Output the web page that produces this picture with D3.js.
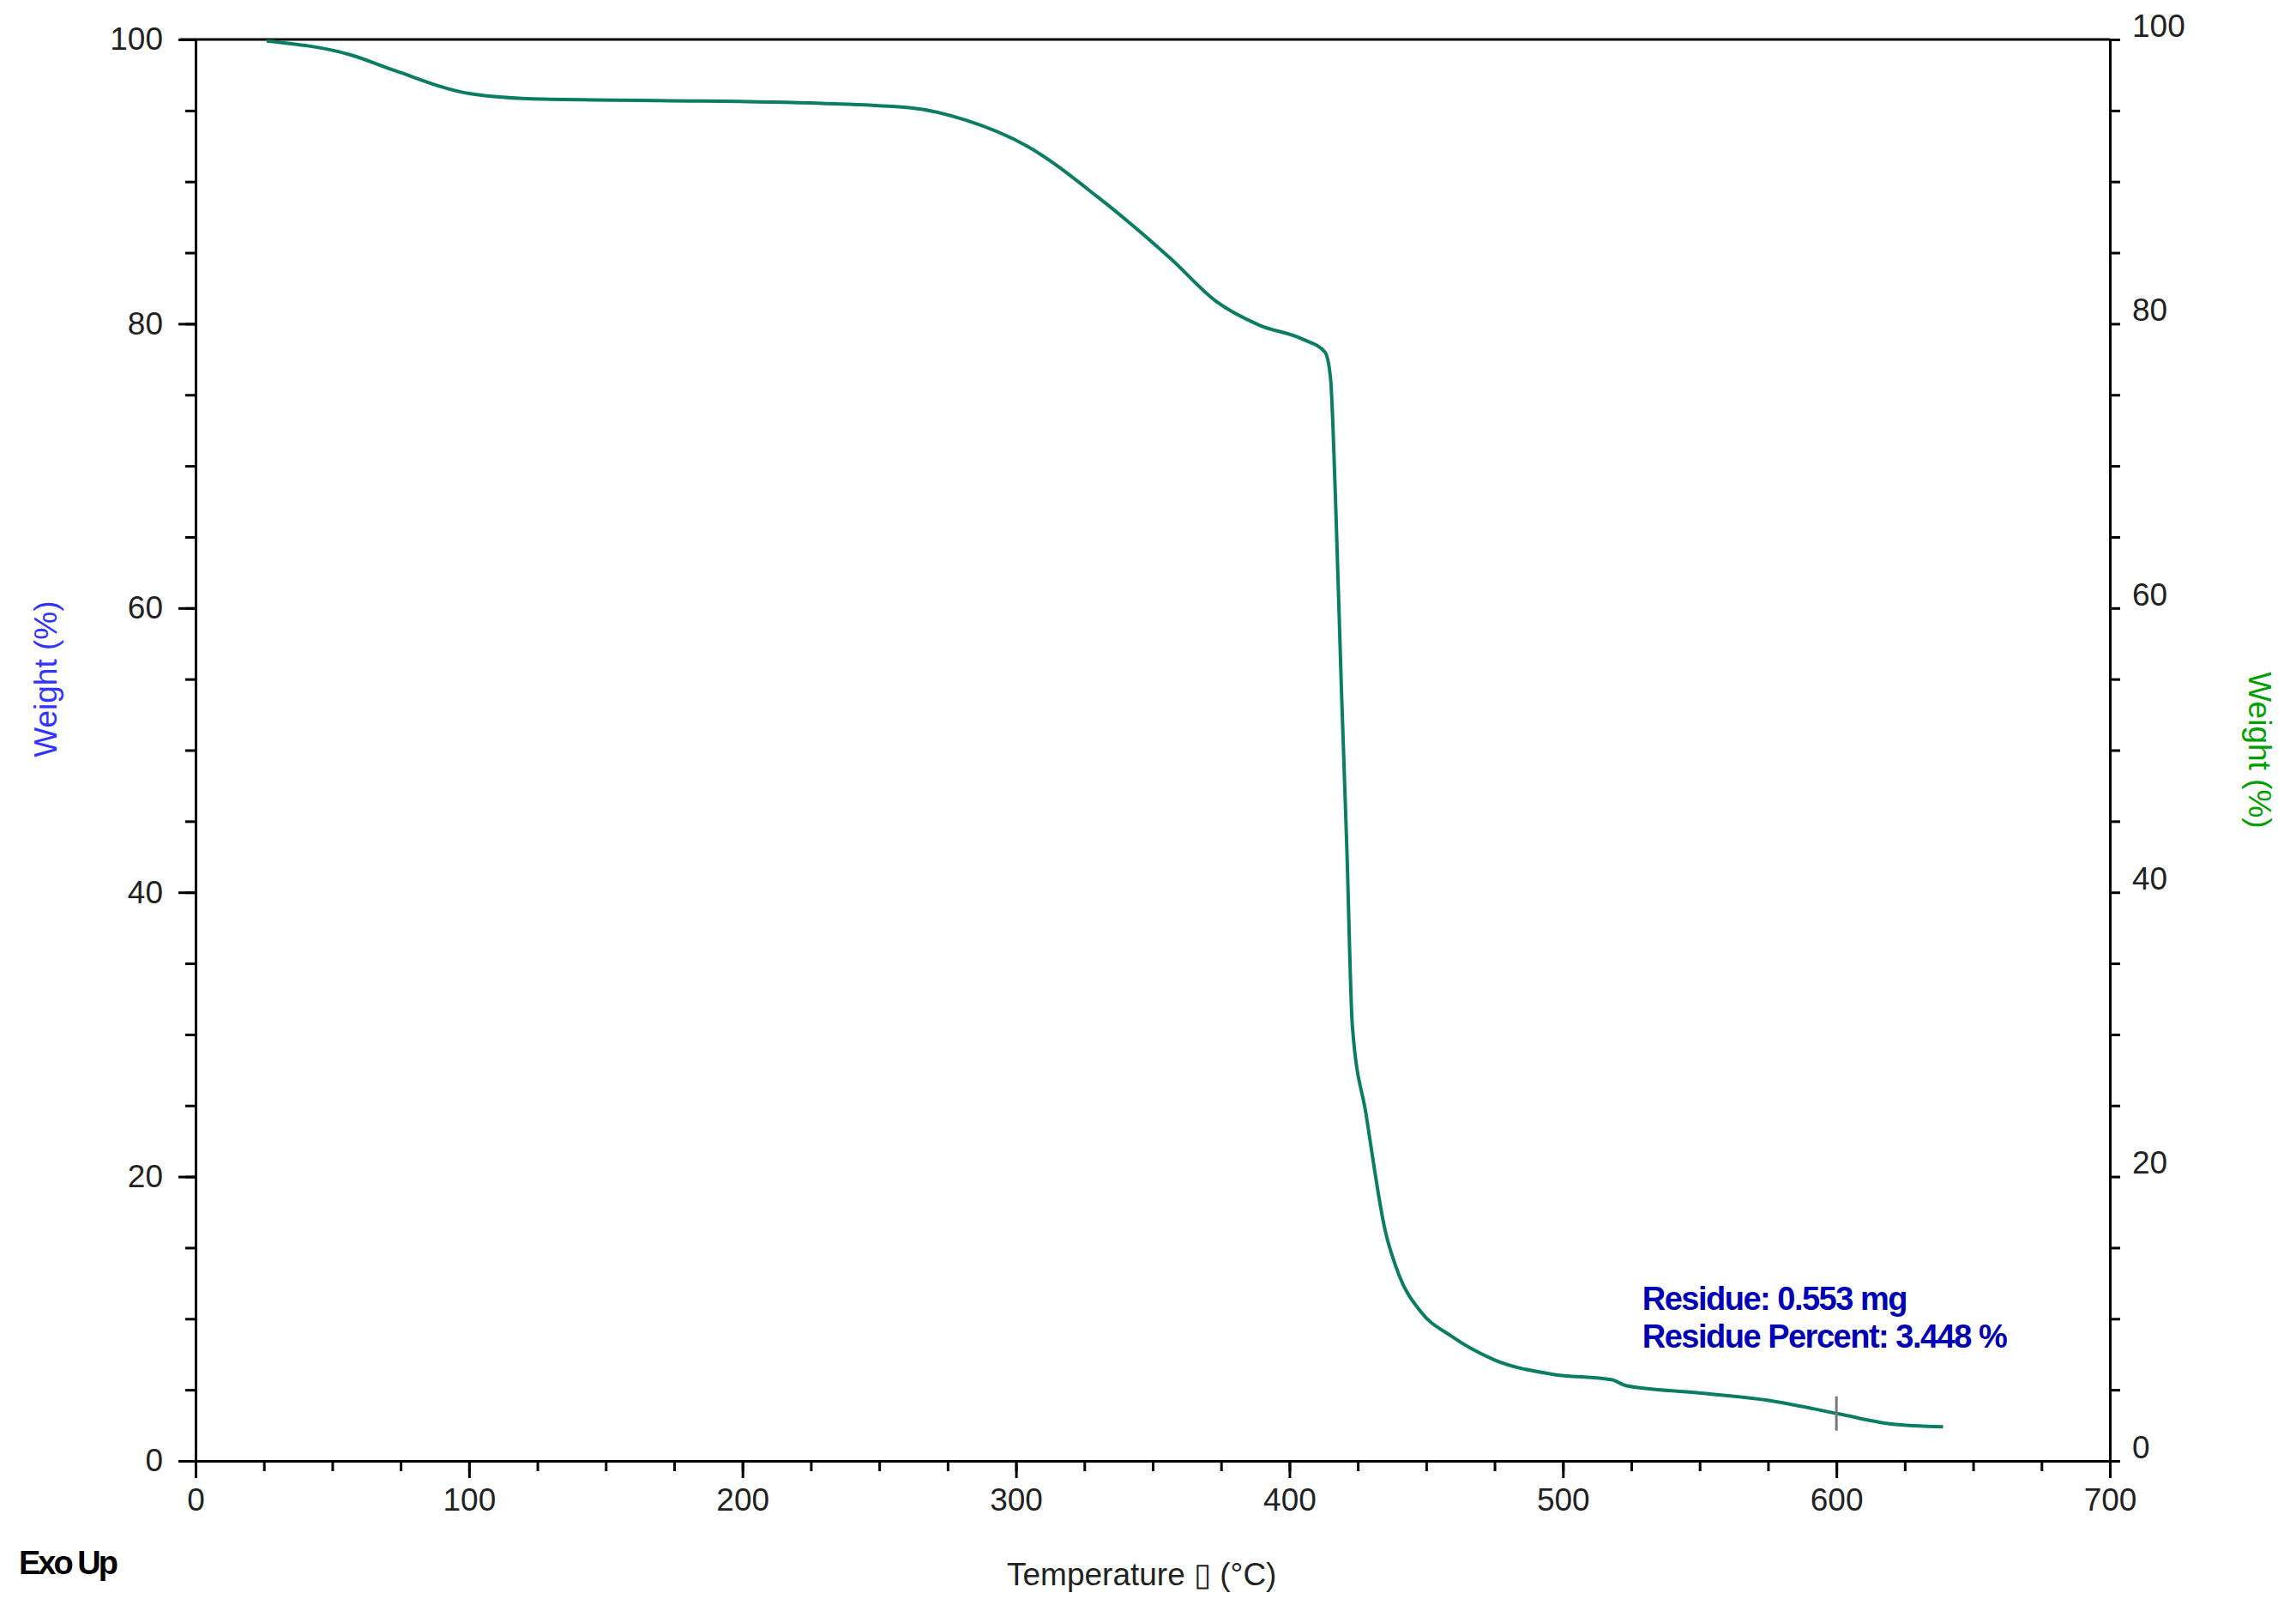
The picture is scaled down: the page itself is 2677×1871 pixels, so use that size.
<!DOCTYPE html>
<html>
<head>
<meta charset="utf-8">
<script src="https://cdn.jsdelivr.net/npm/d3@7"></script>
<style>
  body { margin: 0; background: #fff; }
  text { font-family: Arial, "Liberation Sans", sans-serif; }
</style>
</head>
<body>
<div id="chart"></div>
<script>
// TGA curve
const temps = [26, 57, 73, 100, 127, 170, 229, 261, 282, 304, 330, 357, 373, 389, 405, 413,
  415, 417, 419, 421, 423, 428, 435, 440, 448, 459, 475, 496, 518, 523, 549, 577, 601, 620, 639];
const weights = [99.9, 98.9, 97.8, 96.2, 95.8, 95.7, 95.5, 95.2, 94.3, 92.5, 88.9, 84.5, 81.6, 79.9, 78.9, 78.0,
  76.2, 66.7, 54.3, 43.0, 30.6, 24.4, 16.2, 13.1, 10.5, 8.8, 7.1, 6.1, 5.7, 5.3, 4.8, 4.2, 3.3, 2.6, 2.4];
const xTicks = [0, 100, 200, 300, 400, 500, 600, 700];
const yTicks = [0, 20, 40, 60, 80, 100];
const residueLines = ["Residue: 0.553 mg", "Residue Percent: 3.448 %"];
const residueTemp = 600;

const width = 2677, height = 1871;
const marginLeft = 228, marginRight = 217, marginTop = 46, marginBottom = 168;

const svg = d3.select("#chart").append("svg")
  .attr("width", width).attr("height", height);

const x = d3.scaleLinear().domain([0, 700]).range([marginLeft, width - marginRight]);
const y = d3.scaleLinear().domain([0, 100]).range([height - marginBottom, marginTop]);

// top border
svg.append("line")
  .attr("x1", x(0) - 18).attr("x2", x(700))
  .attr("y1", y(100)).attr("y2", y(100))
  .attr("stroke", "#000").attr("stroke-width", 3);

function styleAxis(g) {
  g.selectAll("path, line").attr("stroke", "#000").attr("stroke-width", 3);
  g.selectAll("text").attr("font-size", 37).attr("fill", "#222");
}

// minor ticks
svg.append("g").attr("transform", `translate(0,${y(0)})`)
  .call(d3.axisBottom(x).tickValues(d3.range(0, 701, 25)).tickSize(12).tickFormat(""))
  .call(styleAxis);
svg.append("g").attr("transform", `translate(${x(0)},0)`)
  .call(d3.axisLeft(y).tickValues(d3.range(0, 101, 5)).tickSize(12).tickFormat(""))
  .call(styleAxis);
svg.append("g").attr("transform", `translate(${x(700)},0)`)
  .call(d3.axisRight(y).tickValues(d3.range(0, 101, 5)).tickSize(12).tickFormat(""))
  .call(styleAxis);

// major ticks
svg.append("g").attr("transform", `translate(0,${y(0)})`)
  .call(d3.axisBottom(x).tickValues(xTicks).tickSize(20).tickPadding(12))
  .call(styleAxis).call(g => g.select(".domain").remove());
svg.append("g").attr("transform", `translate(${x(0)},0)`)
  .call(d3.axisLeft(y).tickValues(yTicks).tickSize(20).tickPadding(18))
  .call(styleAxis).call(g => g.select(".domain").remove());
svg.append("g").attr("transform", `translate(${x(700)},0)`)
  .call(d3.axisRight(y).tickValues(yTicks).tickSize(0).tickPadding(26))
  .call(styleAxis).call(g => g.select(".domain").remove())
  .call(g => g.selectAll("text").attr("dy", "-0.1em"));

// curve
const data = temps.map((t, i) => [t, weights[i]]);
svg.append("path").datum(data)
  .attr("fill", "none").attr("stroke", "#0b7d62").attr("stroke-width", 4)
  .attr("d", d3.line().x(d => x(d[0])).y(d => y(d[1])).curve(d3.curveMonotoneX));

// residue marker
const rw = d3.scaleLinear().domain(temps).range(weights)(residueTemp);
svg.append("line")
  .attr("x1", x(residueTemp)).attr("x2", x(residueTemp))
  .attr("y1", y(rw) - 20).attr("y2", y(rw) + 20)
  .attr("stroke", "#777").attr("stroke-width", 3);

svg.append("g").selectAll("text").data(residueLines).join("text")
  .attr("x", x(529)).attr("y", (d, i) => y(10.6) + i * 44)
  .attr("font-size", 38).attr("font-weight", "bold").attr("fill", "#0000b4")
  .attr("letter-spacing", -1.5)
  .text(d => d);

// axis titles
svg.append("text")
  .attr("transform", `translate(${66},${y(55)}) rotate(-90)`)
  .attr("text-anchor", "middle").attr("font-size", 37).attr("fill", "#3333ff")
  .text("Weight  (%)");
svg.append("text")
  .attr("transform", `translate(${2622},${y(50)}) rotate(90)`)
  .attr("text-anchor", "middle").attr("font-size", 37).attr("fill", "#00a000")
  .text("Weight  (%)");
svg.append("text")
  .attr("x", x(346)).attr("y", 1848)
  .attr("text-anchor", "middle").attr("font-size", 37).attr("fill", "#222")
  .text("Temperature \u25AF  (°C)");
svg.append("text")
  .attr("x", 22).attr("y", 1835)
  .attr("font-size", 38).attr("font-weight", "bold").attr("letter-spacing", -3)
  .text("Exo Up");
</script>
</body>
</html>
